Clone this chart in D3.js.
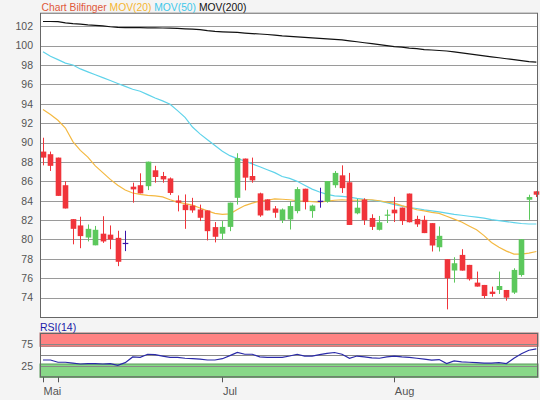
<!DOCTYPE html>
<html>
<head>
<meta charset="utf-8">
<script src="https://cdn.jsdelivr.net/npm/d3@7"></script>
<style>
  body { margin: 0; background: #f4f4f4; }
  text { font-family: "Liberation Sans", Arial, sans-serif; }
</style>
</head>
<body>
<div id="chart"></div>
<script>
// daily OHLC
var open  = [89.07, 88.8, 88.45, 85.6, 82.1, 81.45, 80.2, 79.4, 80.6, 80.5, 80.17, 79.65,
  85.45, 85.6, 85.5, 87.14, 86.55, 86.3, 84.03, 83.6, 83.5, 83.1, 83.0, 81.28, 80.6, 81.3,
  84.3, 88.35, 86.55, 84.76, 84.14, 83.2, 82.0, 82.07, 82.93, 85.24, 82.93, 84.0, 83.9,
  85.6, 86.62, 85.9, 82.7, 84.12, 82.22, 81.0, 82.45, 83.08, 83.29, 84.74, 82.12, 82.03,
  81.69, 79.2, 77.97, 76.8, 78.41, 77.38, 75.55, 75.31, 74.62, 74.79, 74.79, 74.52, 76.34,
  84.1, 84.97];
var high  = [90.5, 89.07, 88.45, 86.0, 82.1, 82.35, 81.55, 81.4, 82.4, 81.45, 80.9, 80.9,
  85.86, 86.83, 88.03, 87.6, 86.97, 86.4, 84.55, 84.65, 84.3, 83.6, 83.0, 81.8, 81.9, 83.8,
  88.9, 88.35, 88.45, 84.83, 84.14, 83.45, 83.2, 83.97, 85.4, 85.24, 83.6, 85.34, 86.03,
  87.07, 87.65, 86.87, 84.2, 84.25, 82.6, 82.43, 83.08, 84.4, 83.29, 84.74, 82.45, 82.45,
  81.69, 81.34, 77.97, 78.17, 79.0, 77.38, 76.69, 75.31, 75.14, 76.69, 74.79, 77.03, 80.03,
  84.62, 84.97];
var low   = [87.65, 87.07, 84.5, 83.2, 79.5, 79.1, 79.8, 79.4, 79.65, 79.0, 77.25, 78.8,
  83.8, 84.76, 85.1, 85.86, 85.86, 84.6, 82.9, 81.1, 82.76, 81.9, 79.9, 79.7, 80.0, 80.86,
  83.6, 85.07, 85.86, 82.34, 83.0, 82.24, 81.7, 81.03, 82.7, 83.1, 82.24, 83.28, 83.8,
  85.34, 84.8, 81.5, 82.6, 81.5, 80.98, 80.93, 81.7, 81.8, 81.5, 81.76, 81.3, 80.66,
  78.76, 78.76, 72.79, 75.55, 76.79, 75.76, 75.14, 73.93, 74.1, 74.38, 73.69, 74.38, 76.17,
  82.03, 84.38];
var close = [88.45, 87.6, 84.5, 83.2, 81.1, 80.35, 81.1, 81.0, 79.8, 80.0, 77.7, 79.65,
  85.17, 84.76, 88.03, 86.45, 86.2, 84.8, 83.8, 83.03, 83.0, 82.24, 80.86, 80.28, 81.3, 83.8,
  88.4, 86.38, 86.1, 82.48, 83.0, 82.76, 83.1, 83.45, 85.2, 83.86, 83.5, 84.0, 86.03,
  86.87, 85.3, 81.5, 83.28, 82.0, 81.3, 81.78, 82.57, 82.7, 81.9, 81.78, 81.56, 80.66,
  79.38, 80.38, 76.0, 77.55, 76.79, 75.9, 75.14, 74.17, 74.38, 75.2, 74.0, 76.86, 80.03,
  84.38, 84.62];

var ma20 = [93.4, 92.9, 92.3, 91.5, 90.1, 89.2, 88.5, 87.6, 86.9, 86.2, 85.6, 85.1, 84.8,
  84.65, 84.55, 84.5, 84.4, 84.1, 83.85, 83.7, 83.55, 83.25, 82.95, 82.7, 82.6, 82.65, 83.1,
  83.5, 83.75, 83.95, 84.05, 84.2, 84.15, 84.1, 84.0, 83.97, 83.9, 83.85, 83.95, 84.05,
  84.1, 84.05, 84.05, 84.1, 84.1, 84.0, 83.85, 83.75, 83.5, 83.3, 83.07, 82.95, 82.8, 82.7,
  82.4, 82.1, 81.8, 81.4, 81.0, 80.4, 79.7, 79.2, 78.8, 78.5, 78.5, 78.6, 78.76];
var ma50 = [99.36, 98.9, 98.56, 98.2, 98.0, 97.6, 97.3, 97.0, 96.7, 96.4, 96.1, 95.8, 95.5,
  95.3, 94.95, 94.6, 94.3, 93.95, 93.3, 92.6, 91.6, 90.9, 90.3, 89.7, 89.1, 88.65, 88.35,
  88.1, 87.8, 87.5, 87.2, 86.9, 86.5, 86.3, 86.0, 85.6, 85.2, 84.9, 84.65, 84.5, 84.45,
  84.38, 84.25, 84.15, 84.05, 83.95, 83.8, 83.6, 83.45, 83.3, 83.2, 83.05, 82.95, 82.85,
  82.72, 82.6, 82.5, 82.4, 82.3, 82.2, 82.05, 81.95, 81.85, 81.75, 81.65, 81.6, 81.6];
var ma200 = [102.49, 102.49, 102.47, 102.35, 102.27, 102.22, 102.15, 102.1, 102.05, 101.95,
  101.88, 101.87, 101.86, 101.85, 101.84, 101.83, 101.82, 101.8, 101.78, 101.74, 101.7,
  101.65, 101.55, 101.47, 101.43, 101.4, 101.36, 101.3, 101.25, 101.2, 101.15, 101.08,
  101.0, 100.95, 100.9, 100.85, 100.8, 100.75, 100.7, 100.65, 100.6, 100.5, 100.4, 100.3,
  100.2, 100.1, 100.0, 99.9, 99.85, 99.75, 99.7, 99.6, 99.55, 99.5, 99.45, 99.35, 99.25,
  99.15, 99.05, 98.95, 98.85, 98.75, 98.65, 98.55, 98.45, 98.35, 98.3];
var rsi = [39, 39, 34, 34, 32, 30, 31, 31, 30, 31, 27, 33, 46, 45, 52, 51, 48, 45, 45, 43,
  42, 41, 39, 39, 42, 49, 56, 52, 52, 46, 45, 45, 45, 48, 52, 48, 48, 51, 54, 56, 52, 43,
  48, 46, 44, 43, 46, 48, 46, 45, 43, 41, 39, 40, 31, 37, 35, 34, 33, 32, 32, 33, 31, 43,
  53, 61, 64];

var priceTicks = [74, 76, 78, 80, 82, 84, 86, 88, 90, 92, 94, 96, 98, 100, 102];
var rsiTicks = [25, 50, 75];
var rsiLabels = [25, 75];
var monthTicks = [0, 2, 24, 47];
var monthLabels = ["Mai", "", "Jul", "Aug"];
var legendNames = ["Chart Bilfinger", "MOV(20)", "MOV(50)", "MOV(200)"];

var W = 540, H = 400;
var left = 40, right = 538;
var mainTop = 12.7, mainBottom = 318;
var rsiTop = 333, rsiBottom = 377.3;

var n = close.length;
var x = d3.scaleLinear().domain([-0.4, n - 0.78]).range([left, right]);
var y = d3.scaleLinear().domain([71.9, 103.4]).range([mainBottom, mainTop]);
var yr = d3.scaleLinear().domain([0, 100]).range([rsiBottom, rsiTop]);

var svg = d3.select("#chart").append("svg")
    .attr("width", W)
    .attr("height", H);

svg.append("rect").attr("width", W).attr("height", H).attr("fill", "#f4f4f4");

// main panel
svg.append("rect")
    .attr("x", left).attr("y", mainTop)
    .attr("width", right - left).attr("height", mainBottom - mainTop)
    .attr("fill", "#fff");

svg.append("g").selectAll("line")
    .data(priceTicks)
  .enter().append("line")
    .attr("x1", left).attr("x2", right)
    .attr("y1", function(d) { return Math.round(y(d)) + 0.5; })
    .attr("y2", function(d) { return Math.round(y(d)) + 0.5; })
    .attr("stroke", "#9a9a9a");

svg.append("g").selectAll("text")
    .data(priceTicks)
  .enter().append("text")
    .attr("x", 33)
    .attr("y", function(d) { return y(d); })
    .attr("dy", "0.36em")
    .attr("text-anchor", "end")
    .attr("font-size", "10.5px")
    .attr("fill", "#555")
    .text(function(d) { return d; });

// moving averages
var line = d3.line()
    .x(function(d, i) { return x(i); })
    .y(function(d) { return y(d); });

[[ma200, "#111"], [ma50, "#5fd3ea"], [ma20, "#f4b942"]].forEach(function(s) {
  svg.append("path")
      .attr("d", line(s[0]))
      .attr("fill", "none")
      .attr("stroke", s[1])
      .attr("stroke-width", 1.2);
});

// candles
var bw = 5.6;
var candles = svg.append("g").selectAll("g")
    .data(d3.range(n))
  .enter().append("g");

function color(i) {
  if (close[i] > open[i]) return "#5cc85c";
  if (close[i] < open[i]) return "#f0343a";
  return "#3a14a8";
}

candles.append("line")
    .attr("x1", function(i) { return Math.round(x(i)) + 0.5; })
    .attr("x2", function(i) { return Math.round(x(i)) + 0.5; })
    .attr("y1", function(i) { return y(high[i]); })
    .attr("y2", function(i) { return y(low[i]); })
    .attr("stroke", color);

candles.append("rect")
    .attr("x", function(i) { return Math.round(x(i)) + 0.5 - bw / 2; })
    .attr("y", function(i) { return y(Math.max(open[i], close[i])); })
    .attr("width", bw)
    .attr("height", function(i) { return Math.max(1.2, Math.abs(y(open[i]) - y(close[i]))); })
    .attr("fill", color);

svg.append("rect")
    .attr("x", left + 0.5).attr("y", mainTop + 0.5)
    .attr("width", right - left - 1).attr("height", mainBottom - mainTop - 1)
    .attr("fill", "none")
    .attr("stroke", "#666");

// legend, one line of text
var legendColors = ["#e0583a", "#f4b430", "#3ec8ea", "#111"];
var leg = svg.append("text")
    .attr("x", 41.5)
    .attr("y", 10.5)
    .attr("font-size", "10.3px");
leg.selectAll("tspan")
    .data(legendNames)
  .enter().append("tspan")
    .attr("fill", function(d, i) { return legendColors[i]; })
    .text(function(d, i) { return (i ? " " : "") + d; });

// RSI panel
svg.append("rect")
    .attr("x", left).attr("y", rsiTop)
    .attr("width", right - left).attr("height", rsiBottom - rsiTop)
    .attr("fill", "#fff");

svg.append("rect")
    .attr("x", left).attr("y", yr(100))
    .attr("width", right - left).attr("height", yr(70) - yr(100))
    .attr("fill", "#ff8282").attr("stroke", "#b06a6a");

svg.append("rect")
    .attr("x", left).attr("y", yr(30))
    .attr("width", right - left).attr("height", yr(0) - yr(30))
    .attr("fill", "#88d888").attr("stroke", "#5a9a5a");

svg.append("g").selectAll("line")
    .data(rsiTicks)
  .enter().append("line")
    .attr("x1", left).attr("x2", right)
    .attr("y1", function(d) { return Math.round(yr(d)) + 0.5; })
    .attr("y2", function(d) { return Math.round(yr(d)) + 0.5; })
    .attr("stroke", "#888");

svg.append("path")
    .attr("d", d3.line().x(function(d, i) { return x(i); }).y(function(d) { return yr(d); })(rsi))
    .attr("fill", "none")
    .attr("stroke", "#2a2aa8")
    .attr("stroke-width", 1.2);

svg.append("rect")
    .attr("x", left + 0.5).attr("y", rsiTop + 0.5)
    .attr("width", right - left - 1).attr("height", rsiBottom - rsiTop - 1)
    .attr("fill", "none")
    .attr("stroke", "#666");

svg.append("g").selectAll("text")
    .data(rsiLabels)
  .enter().append("text")
    .attr("x", 33)
    .attr("y", function(d) { return yr(d); })
    .attr("dy", "0.36em")
    .attr("text-anchor", "end")
    .attr("font-size", "10.5px")
    .attr("fill", "#555")
    .text(function(d) { return d; });

svg.append("text")
    .attr("x", 40).attr("y", 330.5)
    .attr("font-size", "10.5px")
    .attr("fill", "#1a1aa8")
    .text("RSI(14)");

// month axis
svg.append("g").selectAll("line")
    .data(monthTicks)
  .enter().append("line")
    .attr("x1", function(d) { return Math.round(x(d)) + 0.5; })
    .attr("x2", function(d) { return Math.round(x(d)) + 0.5; })
    .attr("y1", rsiBottom).attr("y2", rsiBottom + 5)
    .attr("stroke", "#555");

svg.append("g").selectAll("text")
    .data(monthTicks)
  .enter().append("text")
    .attr("x", function(d) { return x(d) + 0.5; })
    .attr("y", 395)
    .attr("font-size", "11px")
    .attr("fill", "#555")
    .text(function(d, i) { return monthLabels[i]; });
</script>
</body>
</html>
